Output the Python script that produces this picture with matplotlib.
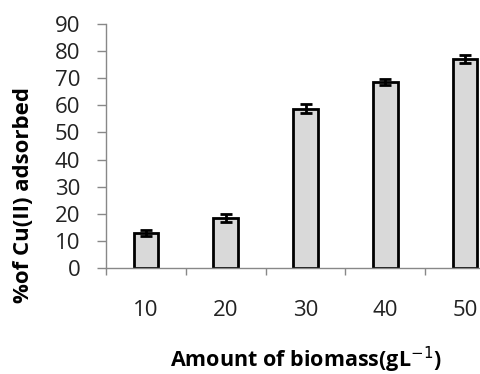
import numpy as np
import matplotlib.pyplot as plt

biomass = ['10', '20', '30', '40', '50']
adsorbed = [13.0, 18.5, 58.8, 68.5, 77.0]
err = [1.2, 1.5, 1.7, 1.1, 1.5]

plt.rcParams['font.family'] = ['Open Sans', 'DejaVu Sans']

fig = plt.figure(figsize=(4.8, 3.74), dpi=100)
# axis right edge runs past the picture, like in the original
ax = fig.add_axes([106 / 480, (374 - 268) / 374, 399 / 480, 244 / 374])

x = np.arange(len(biomass))
ax.bar(x, adsorbed, width=0.31, color='#d9d9d9', edgecolor='black', linewidth=2,
       yerr=err, error_kw=dict(ecolor='black', elinewidth=2, capsize=4, capthick=2))

ax.set_xlim(-0.5, len(biomass) - 0.5)
ax.set_ylim(0, 90)
ax.set_yticks(range(0, 91, 10))
ax.set_xticks(x)
ax.set_xticklabels(biomass)
ax.set_xticks(np.arange(-0.5, len(biomass), 1), minor=True)
ax.tick_params(axis='x', which='major', length=0, pad=23, labelsize=16, colors='#222222')
ax.tick_params(axis='x', which='minor', length=5, width=1, color='#888888')
ax.tick_params(axis='y', length=6.5, width=1, color='#888888', labelsize=16,
               labelcolor='#222222', pad=12)

for s in ['top', 'right']:
    ax.spines[s].set_visible(False)
for s in ['left', 'bottom']:
    ax.spines[s].set_color('#888888')
    ax.spines[s].set_linewidth(1)

ax.set_ylabel('%of Cu(II) adsorbed', fontsize=16, fontweight='bold')
ax.yaxis.set_label_coords(-0.18, 0.30)
ax.set_xlabel('Amount of biomass(gL$^{-1}$)', fontsize=15.5, fontweight='bold')
ax.xaxis.set_label_coords(0.5, -0.315)

fig.savefig('out.png', dpi=100)
